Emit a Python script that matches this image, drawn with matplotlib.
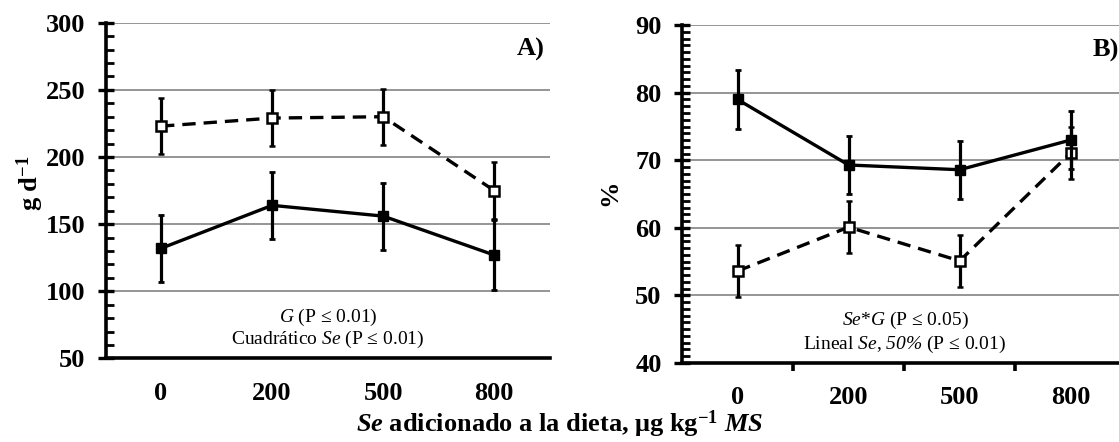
import matplotlib
matplotlib.use("Agg")
import matplotlib.pyplot as plt
from matplotlib.ticker import MultipleLocator, FixedLocator

plt.rcParams['font.family'] = 'Liberation Serif'
plt.rcParams['mathtext.fontset'] = 'custom'
plt.rcParams['mathtext.rm'] = 'Liberation Serif'
plt.rcParams['mathtext.it'] = 'Liberation Serif:italic'
plt.rcParams['mathtext.cal'] = 'Liberation Serif:italic'   # italic digits too
plt.rcParams['mathtext.bf'] = 'Liberation Serif:bold'
plt.rcParams['mathtext.bfit'] = 'Liberation Serif:italic:bold'

doses = ['0', '200', '500', '800']

# A) g d-1
a_solid = [132, 164, 156, 127]
a_solid_err = [25, 25, 25, 26]
a_dash = [223, 229, 230, 175]
a_dash_err = [21, 21, 21, 21]

# B) %
b_solid = [79.0, 69.3, 68.6, 73.0]
b_solid_err = [4.3, 4.3, 4.3, 4.3]
b_dash = [53.6, 60.1, 55.1, 71.1]
b_dash_err = [3.8, 3.8, 3.8, 3.8]

tick_fs = 19
note_fs = 14


def draw(ax, solid, solid_err, dash, dash_err, ylim, ystep, yminor, xticks_out):
    x = list(range(len(doses)))
    ax.errorbar(x, dash, yerr=dash_err, color='black', lw=2.4, ls=(0, (4, 2.4)),
                marker='s', ms=7, mfc='white', mec='black', mew=1.8,
                elinewidth=2.3, capsize=2.5, capthick=2, zorder=3)
    ax.errorbar(x, solid, yerr=solid_err, color='black', lw=2.4, ls='-',
                marker='s', ms=7.5, mfc='black', mec='black',
                elinewidth=2.3, capsize=2.5, capthick=2, zorder=4)
    ax.set_xlim(-0.5, len(doses) - 0.5)
    ax.set_ylim(*ylim)
    ax.set_xticks(x)
    ax.set_xticklabels(doses, fontsize=tick_fs, fontweight='bold')
    ax.yaxis.set_major_locator(MultipleLocator(ystep))
    ax.yaxis.set_minor_locator(MultipleLocator(yminor))
    for lab in ax.get_yticklabels():
        lab.set_fontsize(tick_fs)
        lab.set_fontweight('bold')
    ax.yaxis.grid(True, color='#8c8c8c', lw=1.3)
    ax.set_axisbelow(True)
    for s in ['top', 'right']:
        ax.spines[s].set_visible(False)
    for s in ['left', 'bottom']:
        ax.spines[s].set_linewidth(2.6)
    ax.tick_params(axis='y', which='major', direction='inout', length=11.5, width=2.4, pad=9)
    ax.tick_params(axis='y', which='minor', direction='in', length=5.5, width=2)
    ax.tick_params(axis='x', which='major', length=0, pad=17)
    if xticks_out:
        ax.xaxis.set_minor_locator(FixedLocator([0.5, 1.5, 2.5]))
        ax.tick_params(axis='x', which='minor', direction='out', length=6, width=2.6)
    else:
        ax.tick_params(axis='x', which='minor', length=0)


fig = plt.figure(figsize=(11.19, 4.42), dpi=100)
axA = fig.add_axes([0.0943, 0.189, 0.397, 0.7596])
axB = fig.add_axes([0.6095, 0.179, 0.397, 0.764])

draw(axA, a_solid, a_solid_err, a_dash, a_dash_err, (50, 300), 50, 10, False)
draw(axB, b_solid, b_solid_err, b_dash, b_dash_err, (40, 90), 10, 1, True)

axA.text(0.956, 0.919, 'A)', transform=axA.transAxes, ha='center', va='center',
         fontsize=tick_fs, fontweight='bold')
axB.text(0.955, 0.926, 'B)', transform=axB.transAxes, ha='center', va='center',
         fontsize=tick_fs, fontweight='bold')

axA.text(0.501, 0.123, r'$\mathit{G}$ (P ≤ 0.01)', transform=axA.transAxes,
         ha='center', va='center', fontsize=note_fs)
axA.text(0.501, 0.058, r'Cuadrático $\mathit{Se}$ (P ≤ 0.01)', transform=axA.transAxes,
         ha='center', va='center', fontsize=note_fs)
axB.text(0.502, 0.126, r'$\mathit{Se}$*$\mathit{G}$ (P ≤ 0.05)', transform=axB.transAxes,
         ha='center', va='center', fontsize=note_fs)
axB.text(0.502, 0.056, r'Lineal $\mathcal{Se}$, $\mathcal{50\%}$ (P ≤ 0.01)',
         transform=axB.transAxes, ha='center', va='center', fontsize=note_fs)

fig.text(30 / 1119, 1 - 183 / 442, r'g d$^{\mathbf{-1}}$', rotation=90, ha='center',
         va='center', fontsize=tick_fs, fontweight='bold')
fig.text(610 / 1119, 1 - 193 / 442, '%', rotation=90, ha='center', va='center',
         fontsize=tick_fs, fontweight='bold')
fig.text(0.5, 1 - 424 / 442,
         r'$\mathbfit{Se}$ adicionado a la dieta, μg kg$^{\mathbf{-1}}$ $\mathbfit{MS}$',
         ha='center', va='center', fontsize=tick_fs, fontweight='bold')

fig.savefig('out.png', dpi=100)
